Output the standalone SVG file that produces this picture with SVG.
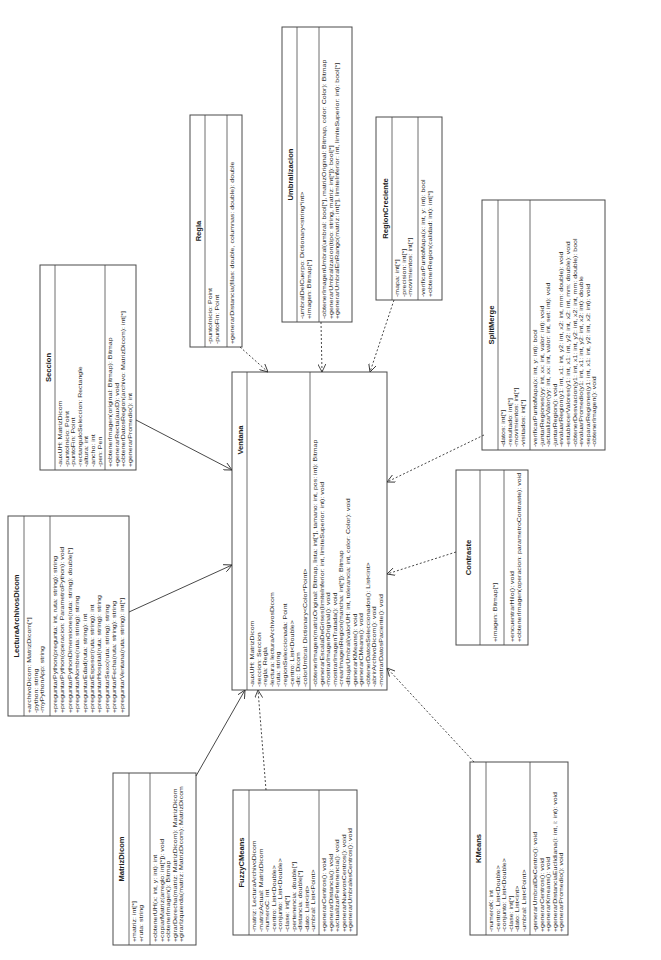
<svg xmlns="http://www.w3.org/2000/svg" width="661" height="960" viewBox="0 0 661 960">
<style>
.bg{fill:#ffffff}
.box{fill:#ffffff;stroke:#4a4a4a;stroke-width:1}
.dv{stroke:#4a4a4a;stroke-width:0.8}
.t{font-family:"Liberation Sans",Arial,sans-serif;font-size:7px;fill:#2a2a2a}
.ti{font-family:"Liberation Sans",Arial,sans-serif;font-size:7.6px;font-weight:bold;fill:#1e1e1e;text-anchor:middle}
.as{fill:none;stroke:#333333;stroke-width:0.9}
.dp{fill:none;stroke:#333333;stroke-width:0.9;stroke-dasharray:2 2}
</style>
<defs>
<marker id="oa" viewBox="0 0 10 10" refX="10" refY="5" markerWidth="8" markerHeight="8" markerUnits="userSpaceOnUse" orient="auto">
<path d="M0,0 L10,5 L0,10" fill="none" stroke="#333333" stroke-width="1.1"/>
</marker>
</defs>
<rect class="bg" x="0" y="0" width="661" height="960"/>
<g transform="translate(0,960) rotate(-90)">
<g id="Regla">
<rect class="box" x="613" y="190" width="232" height="52"/>
<line class="dv" x1="613" y1="205" x2="845" y2="205"/>
<line class="dv" x1="613" y1="227" x2="845" y2="227"/>
<g transform="scale(1,0.85)">
<text class="ti" x="729" y="236.47">Regla</text>
<text class="t" x="616" y="249.41">-puntoInicio: Point</text>
<text class="t" x="616" y="257.18">-puntoFin: Point</text>
<text class="t" x="616" y="275.29">+generarDistancia(filas: double, columnas: double): double</text>
</g>
</g>
<g id="Umbralizacion">
<rect class="box" x="638" y="282" width="295" height="70"/>
<line class="dv" x1="638" y1="297" x2="933" y2="297"/>
<line class="dv" x1="638" y1="319" x2="933" y2="319"/>
<g transform="scale(1,0.85)">
<text class="ti" x="785.5" y="344.71">Umbralizacion</text>
<text class="t" x="641" y="357.65">-umbralDelCuerpo: Dictionary&lt;string*int&gt;</text>
<text class="t" x="641" y="365.41">+imagen: Bitmap[*]</text>
<text class="t" x="641" y="383.53">-obtenerImagenUmbral(umbral: bool[*], matrizOriginal: Bitmap, color: Color): Bitmap</text>
<text class="t" x="641" y="391.29">+generarUmbralizacion(tipo: string, matriz: int[*]): bool[*]</text>
<text class="t" x="641" y="399.06">+generarUmbralEnRango(matriz: int[*], limiteInferior: int, limiteSuperior: int): bool[*]</text>
</g>
</g>
<g id="RegionCreciente">
<rect class="box" x="660" y="376" width="183" height="66"/>
<line class="dv" x1="660" y1="392" x2="843" y2="392"/>
<line class="dv" x1="660" y1="418" x2="843" y2="418"/>
<g transform="scale(1,0.85)">
<text class="ti" x="751.5" y="456.47">RegionCreciente</text>
<text class="t" x="663" y="469.41">-mapa: int[*]</text>
<text class="t" x="663" y="477.18">-precision: int[*]</text>
<text class="t" x="663" y="484.94">-movimientos: int[*]</text>
<text class="t" x="663" y="500">-verificarPuntoMapa(x: int, y: int): bool</text>
<text class="t" x="663" y="507.76">+obtenerRegion(calidad: int): int[*]</text>
</g>
</g>
<g id="SplitMerge">
<rect class="box" x="510" y="482" width="250" height="123"/>
<line class="dv" x1="510" y1="498" x2="760" y2="498"/>
<line class="dv" x1="510" y1="530" x2="760" y2="530"/>
<g transform="scale(1,0.85)">
<text class="ti" x="635" y="581.18">SplitMerge</text>
<text class="t" x="513" y="594.12">-datos: int[*]</text>
<text class="t" x="513" y="601.88">-resultado: int[*]</text>
<text class="t" x="513" y="609.65">-movimientos: int[*]</text>
<text class="t" x="513" y="617.41">-visitados: int[*]</text>
<text class="t" x="513" y="631.76">-verificarPuntoMapa(x: int, y: int): bool</text>
<text class="t" x="513" y="639.53">-juntarRegiones(yy: int, xx: int, valor: int): void</text>
<text class="t" x="513" y="647.29">-actualizarValor(yy: int, xx: int, valor: int, set: int): void</text>
<text class="t" x="513" y="655.06">-juntarRegion(): void</text>
<text class="t" x="513" y="662.82">-evaluarRegion(y1: int, x1: int, y2: int, x2: int, mm: double): void</text>
<text class="t" x="513" y="670.59">-establecerValores(y1: int, x1: int, y2: int, x2: int, mm: double): void</text>
<text class="t" x="513" y="678.35">-obtenerDesviacion(y1: int, x1: int, y2: int, x2: int, mm: double): bool</text>
<text class="t" x="513" y="686.12">-evaluarPromedio(y1: int, x1: int, y2: int, x2: int): double</text>
<text class="t" x="513" y="693.88">-separarRegiones(y1: int, x1: int, y2: int, x2: int): void</text>
<text class="t" x="513" y="701.65">-obtenerImagen(): void</text>
</g>
</g>
<g id="Seccion">
<rect class="box" x="490" y="40" width="205" height="96"/>
<line class="dv" x1="490" y1="55" x2="695" y2="55"/>
<line class="dv" x1="490" y1="105" x2="695" y2="105"/>
<g transform="scale(1,0.85)">
<text class="ti" x="592.5" y="60">Seccion</text>
<text class="t" x="493" y="72.94">-auxUH: MatrizDicom</text>
<text class="t" x="493" y="80.71">-puntoInicio: Point</text>
<text class="t" x="493" y="88.47">-puntoFin: Point</text>
<text class="t" x="493" y="96.24">-rectanguloSeleccion: Rectangle</text>
<text class="t" x="493" y="104">-altura: int</text>
<text class="t" x="493" y="111.76">-ancho: int</text>
<text class="t" x="493" y="119.53">-pen: Pen</text>
<text class="t" x="493" y="131.76">+obtenerImagen(original: Bitmap): Bitmap</text>
<text class="t" x="493" y="139.53">+generarRecta(auxD): void</text>
<text class="t" x="493" y="147.29">+obtenerDatosRegion(archivo: MatrizDicom): int[*]</text>
<text class="t" x="493" y="155.06">+generarPromedio(): int</text>
</g>
</g>
<g id="LecturaArchivosDicom">
<rect class="box" x="244" y="8" width="200" height="121"/>
<line class="dv" x1="244" y1="24" x2="444" y2="24"/>
<line class="dv" x1="244" y1="50" x2="444" y2="50"/>
<g transform="scale(1,0.85)">
<text class="ti" x="344" y="22.94">LecturaArchivosDicom</text>
<text class="t" x="247" y="36.47">+archivoDicom: MatrizDicom[*]</text>
<text class="t" x="247" y="44.24">-python: string</text>
<text class="t" x="247" y="52">-myPythonApp: string</text>
<text class="t" x="247" y="67.06">+preguntarPython(pregunta: int, ruta: string): string</text>
<text class="t" x="247" y="75.76">+preguntarPython(operacion: ParametroPython): void</text>
<text class="t" x="247" y="84.47">+preguntarPythonDimensiones(ruta: string): double[*]</text>
<text class="t" x="247" y="93.18">+preguntarNombre(ruta: string): string</text>
<text class="t" x="247" y="101.88">+preguntarEdad(ruta: string): int</text>
<text class="t" x="247" y="110.59">+preguntarEspesor(ruta: string): int</text>
<text class="t" x="247" y="119.29">+preguntarHospital(ruta: string): string</text>
<text class="t" x="247" y="128">+preguntarSexo(ruta: string): string</text>
<text class="t" x="247" y="136.71">+preguntarFecha(ruta: string): string</text>
<text class="t" x="247" y="145.41">+preguntarVentana(ruta: string): int[*]</text>
</g>
</g>
<g id="Ventana">
<rect class="box" x="270" y="232" width="318" height="155"/>
<line class="dv" x1="270" y1="247" x2="588" y2="247"/>
<line class="dv" x1="270" y1="310" x2="588" y2="310"/>
<g transform="scale(1,0.85)">
<text class="ti" x="520" y="285.88">Ventana</text>
<text class="t" x="273" y="298.82">-auxUH: MatrizDicom</text>
<text class="t" x="273" y="306.59">-seccion: Seccion</text>
<text class="t" x="273" y="314.35">-regla: Regla</text>
<text class="t" x="273" y="322.12">-lectura: lecturaArchivosDicom</text>
<text class="t" x="273" y="329.88">-ruta: string</text>
<text class="t" x="273" y="337.65">-regionSeleccionada: Point</text>
<text class="t" x="273" y="345.41">-centro: List&lt;Double&gt;</text>
<text class="t" x="273" y="353.18">-dic: Dicom</text>
<text class="t" x="273" y="360.94">-colorUmbral: Dictionary&lt;Color*Point&gt;</text>
<text class="t" x="273" y="372.94">-obtenerImagen(matrizOriginal: Bitmap, lista: int[*], tamano: int, pos: int): Bitmap</text>
<text class="t" x="273" y="380.71">-generarEscalaDeGrises(limiteInferior: int, limiteSuperior: int): void</text>
<text class="t" x="273" y="388.47">-mostrarImagenOriginal(): void</text>
<text class="t" x="273" y="396.24">-mostrarImagenTratada(): void</text>
<text class="t" x="273" y="404">-crearImagenRegion(mancha: int[*]): Bitmap</text>
<text class="t" x="273" y="411.76">-dibujarUmbral(valorUH: int, tolerancia: int, color: Color): void</text>
<text class="t" x="273" y="419.53">-generarKMeans(): void</text>
<text class="t" x="273" y="427.29">-generarCMeans(): void</text>
<text class="t" x="273" y="435.06">-obtenerDatosSeleccionados(): List&lt;int&gt;</text>
<text class="t" x="273" y="442.82">-abrirArchivoDicom(): void</text>
<text class="t" x="273" y="450.59">-mostrarDatosPaciente(): void</text>
</g>
</g>
<g id="Contraste">
<rect class="box" x="315" y="456" width="175" height="72"/>
<line class="dv" x1="315" y1="480" x2="490" y2="480"/>
<line class="dv" x1="315" y1="504" x2="490" y2="504"/>
<g transform="scale(1,0.85)">
<text class="ti" x="402.5" y="554.12">Contraste</text>
<text class="t" x="318" y="584.71">+imagen: Bitmap[*]</text>
<text class="t" x="318" y="604.71">+encuentrarHilo(): void</text>
<text class="t" x="318" y="612.94">+obtenerImagen(operacion: parametroContraste): void</text>
</g>
</g>
<g id="MatrizDicom">
<rect class="box" x="15" y="113" width="172" height="83"/>
<line class="dv" x1="15" y1="129" x2="187" y2="129"/>
<line class="dv" x1="15" y1="150" x2="187" y2="150"/>
<g transform="scale(1,0.85)">
<text class="ti" x="101" y="145.88">MatrizDicom</text>
<text class="t" x="18" y="160">+matriz: int[*]</text>
<text class="t" x="18" y="167.76">+ruta: string</text>
<text class="t" x="18" y="184.71">+obtenerUH(x: int, y: int): int</text>
<text class="t" x="18" y="192.47">+copiarMatriz(arreglo: int[*]): void</text>
<text class="t" x="18" y="200.24">+obtenerImagen(): Bitmap</text>
<text class="t" x="18" y="208">+girarDerecha(matriz: MatrizDicom): MatrizDicom</text>
<text class="t" x="18" y="215.76">+girarIzquierda(matriz: MatrizDicom): MatrizDicom</text>
</g>
</g>
<g id="FuzzyCMeans">
<rect class="box" x="25" y="233" width="145" height="124"/>
<line class="dv" x1="25" y1="249" x2="170" y2="249"/>
<line class="dv" x1="25" y1="319" x2="170" y2="319"/>
<g transform="scale(1,0.85)">
<text class="ti" x="97.5" y="287.06">FuzzyCMeans</text>
<text class="t" x="28" y="301.18">-matriz: LecturaArchivoDicom</text>
<text class="t" x="28" y="308.94">-matrizActual: MatrizDicom</text>
<text class="t" x="28" y="316.71">-numeroC: int</text>
<text class="t" x="28" y="324.47">-centro: List&lt;Double&gt;</text>
<text class="t" x="28" y="332.24">-conjunto: List&lt;Double&gt;</text>
<text class="t" x="28" y="340">-clase: int[*]</text>
<text class="t" x="28" y="347.76">-pertenencia: double[*]</text>
<text class="t" x="28" y="355.53">-distancia: double[*]</text>
<text class="t" x="28" y="363.29">-dato: List&lt;int&gt;</text>
<text class="t" x="28" y="371.06">-umbral: List&lt;Point&gt;</text>
<text class="t" x="28" y="383.53">+generarCentros(): void</text>
<text class="t" x="28" y="391.29">+generarDistancia(): void</text>
<text class="t" x="28" y="399.06">+actualizarPertenencia(): void</text>
<text class="t" x="28" y="406.82">+generarNuevosCentros(): void</text>
<text class="t" x="28" y="414.59">+generarUmbralesCentros(): void</text>
</g>
</g>
<g id="KMeans">
<rect class="box" x="25" y="470" width="173" height="98"/>
<line class="dv" x1="25" y1="486" x2="198" y2="486"/>
<line class="dv" x1="25" y1="530" x2="198" y2="530"/>
<g transform="scale(1,0.85)">
<text class="ti" x="111.5" y="565.88">KMeans</text>
<text class="t" x="28" y="580">-numeroK: int</text>
<text class="t" x="28" y="587.76">-centro: List&lt;Double&gt;</text>
<text class="t" x="28" y="595.53">-conjunto: List&lt;Double&gt;</text>
<text class="t" x="28" y="603.29">-clase: int[*]</text>
<text class="t" x="28" y="611.06">-dato: List&lt;int&gt;</text>
<text class="t" x="28" y="618.82">-umbral: List&lt;Point&gt;</text>
<text class="t" x="28" y="631.76">-generarUmbralDeCentro(): void</text>
<text class="t" x="28" y="639.53">+generarCentros(): void</text>
<text class="t" x="28" y="647.29">+generarKmeans(): void</text>
<text class="t" x="28" y="655.06">+generarDistanciaEuclidiana(i: int, i: int): void</text>
<text class="t" x="28" y="662.82">+generarPromedio(): void</text>
</g>
</g>
</g>
<g id="connectors">
<line class="as" x1="136" y1="420" x2="232" y2="470" marker-end="url(#oa)"/>
<line class="as" x1="129" y1="612" x2="232" y2="565" marker-end="url(#oa)"/>
<line class="as" x1="196" y1="776" x2="245" y2="690" marker-end="url(#oa)"/>
<line class="dp" x1="240" y1="347" x2="268" y2="372" marker-end="url(#oa)"/>
<line class="dp" x1="321" y1="322" x2="322" y2="372" marker-end="url(#oa)"/>
<line class="dp" x1="394" y1="300" x2="370" y2="372" marker-end="url(#oa)"/>
<line class="dp" x1="484" y1="435" x2="387" y2="482" marker-end="url(#oa)"/>
<line class="dp" x1="456" y1="552" x2="387" y2="574" marker-end="url(#oa)"/>
<line class="dp" x1="474" y1="762" x2="387" y2="668" marker-end="url(#oa)"/>
<line class="dp" x1="266" y1="790" x2="258" y2="690" marker-end="url(#oa)"/>
</g>
</svg>
